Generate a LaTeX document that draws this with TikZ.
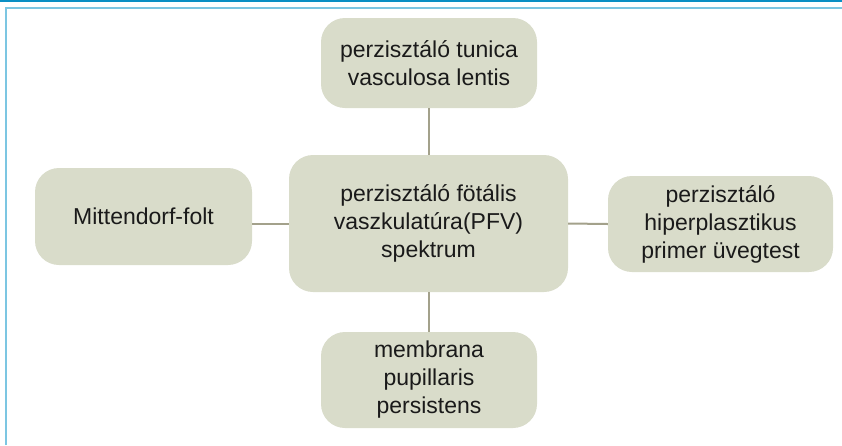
\documentclass[tikz,border=0pt]{standalone}
\usepackage{fontspec}
\setmainfont{Liberation Sans}
\definecolor{boxfill}{HTML}{D9DCCA}
\definecolor{linkcol}{HTML}{A3A18B}
\definecolor{topblue}{HTML}{0A8FC4}
\definecolor{frameblue}{HTML}{7CC6E2}
\definecolor{txt}{HTML}{1A1A1A}
\tikzset{
  bubble/.style={fill=boxfill, draw=none, rounded corners=24pt, align=center,
    text=txt, inner sep=0pt,
    font=\fontsize{23}{28}\selectfont},
  link/.style={draw=linkcol, line width=2pt}
}
\begin{document}
\begin{tikzpicture}[x=1pt,y=-1pt]
\useasboundingbox (0,0) rectangle (842,445);
% top blue rule and frame
\fill[topblue] (0,0) rectangle (842,1.8);
\draw[frameblue, line width=2pt] (6,445) -- (6,7.5) -- (842,7.5);
% nodes
\node[bubble, minimum width=279pt, minimum height=137pt] (c) at (428.5,223.5)
  {perzisztáló fötális\\vaszkulatúra(PFV)\\spektrum};
\node[bubble, minimum width=216pt, minimum height=90pt] (t) at (429,63)
  {perzisztáló tunica\\vasculosa lentis};
\node[bubble, minimum width=217pt, minimum height=97pt] (l) at (143.5,216.5)
  {Mittendorf-folt};
\node[bubble, minimum width=225pt, minimum height=96pt] (r) at (720.5,224)
  {perzisztáló\\hiperplasztikus\\primer üvegtest};
\node[bubble, minimum width=216pt, minimum height=96pt] (b) at (429,380)
  {membrana\\pupillaris\\persistens};
% connectors
\draw[link] (t.south) -- (c.north -| t.south);
\draw[link] (c.south) -- (b.north -| c.south);
\draw[link] (c.west) -- (c.west -| l.east);
\draw[link] (c.east) -- (r.west);
\end{tikzpicture}
\end{document}
